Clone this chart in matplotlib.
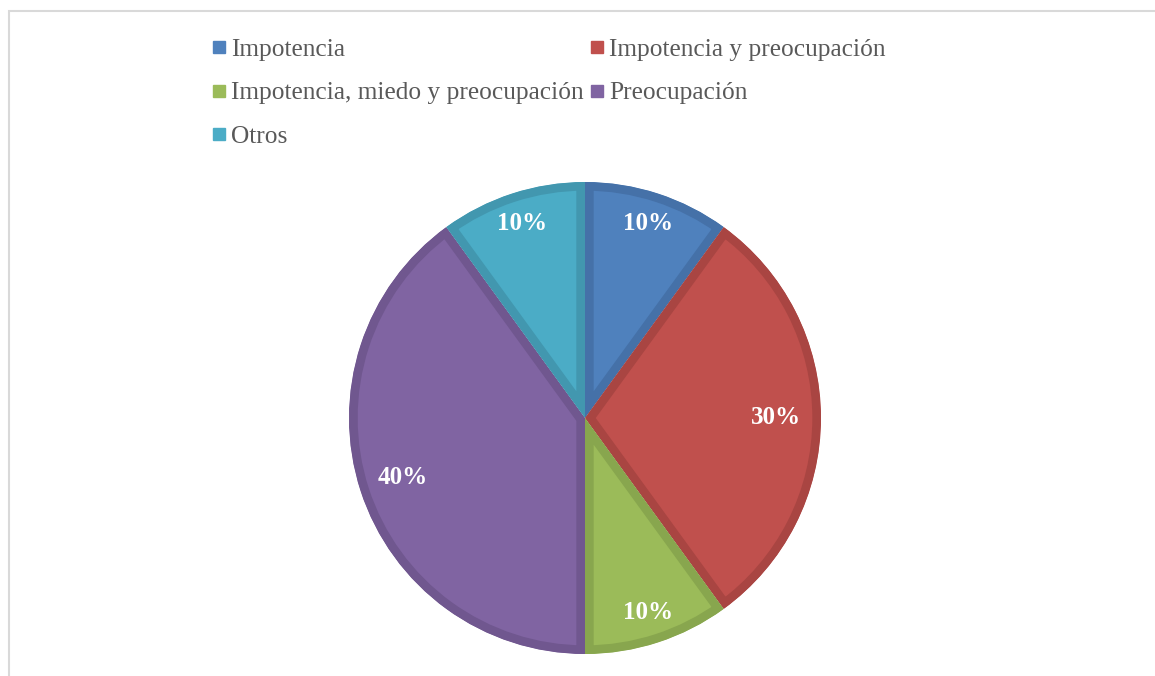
import matplotlib.pyplot as plt
from matplotlib.lines import Line2D
from matplotlib.patches import Rectangle, Wedge
import numpy as np

categorias = [
    'Impotencia',
    'Impotencia y preocupación',
    'Impotencia, miedo y preocupación',
    'Preocupación',
    'Otros',
]
porcentajes = [10, 30, 10, 40, 10]

colores = ['#4F81BD', '#C0504D', '#9BBB59', '#8064A2', '#4BACC6']
bordes = ['#4571A8', '#A94542', '#88A64E', '#70578F', '#4297AF']

plt.rcParams['font.family'] = ['Liberation Serif', 'DejaVu Serif']

fig = plt.figure(figsize=(11.55, 6.76), dpi=100)

# marco gris del area del grafico
fig.patches.append(
    Rectangle((8.5 / 1155, -0.1), 1.2, 1 - 10.5 / 676 + 0.1,
              transform=fig.transFigure, fill=False,
              edgecolor='#D9D9D9', linewidth=1.5)
)

cx, cy, r = 585, 418, 236
ax = fig.add_axes([(cx - r) / 1155, (676 - cy - r) / 676, 2 * r / 1155, 2 * r / 676])

wedges, textos, autotextos = ax.pie(
    porcentajes,
    colors=colores,
    startangle=90,
    counterclock=False,
    radius=1,
    autopct='%1.0f%%',
    pctdistance=0.84,
    textprops={'color': 'white', 'fontsize': 18, 'fontweight': 'bold'},
)

for w, borde, t in zip(wedges, bordes, autotextos):
    # borde oscuro solo hacia dentro de cada porcion
    clip = Wedge(w.center, w.r, w.theta1, w.theta2,
                 facecolor='none', edgecolor='none')
    ax.add_patch(clip)
    w.set_edgecolor(borde)
    w.set_linewidth(12.5)
    w.set_clip_on(True)
    w.set_clip_path(clip)
    ang = np.deg2rad((w.theta1 + w.theta2) / 2)
    span = abs(w.theta2 - w.theta1)
    d = 0.865 if span < 60 else 0.81
    t.set_position((d * np.cos(ang), d * np.sin(ang)))

ax.set_xlim(-1, 1)
ax.set_ylim(-1, 1)
ax.set_aspect('equal')
ax.axis('off')

handles = [
    Line2D([], [], marker='s', linestyle='none', markersize=8.5,
           markerfacecolor=c, markeredgecolor=c)
    for c in colores
]
orden = [0, 2, 4, 1, 3]
leg = fig.legend(
    [handles[i] for i in orden],
    [categorias[i] for i in orden],
    loc='upper left',
    bbox_to_anchor=(213 / 1155, 1 - 38 / 676),
    ncol=2,
    frameon=False,
    fontsize=18.3,
    handlelength=0.5,
    handletextpad=0.2,
    columnspacing=0.3,
    labelspacing=0.82,
    borderpad=0,
    borderaxespad=0,
)
for t in leg.get_texts():
    t.set_color('#595959')

plt.savefig('out.png', dpi=100)
